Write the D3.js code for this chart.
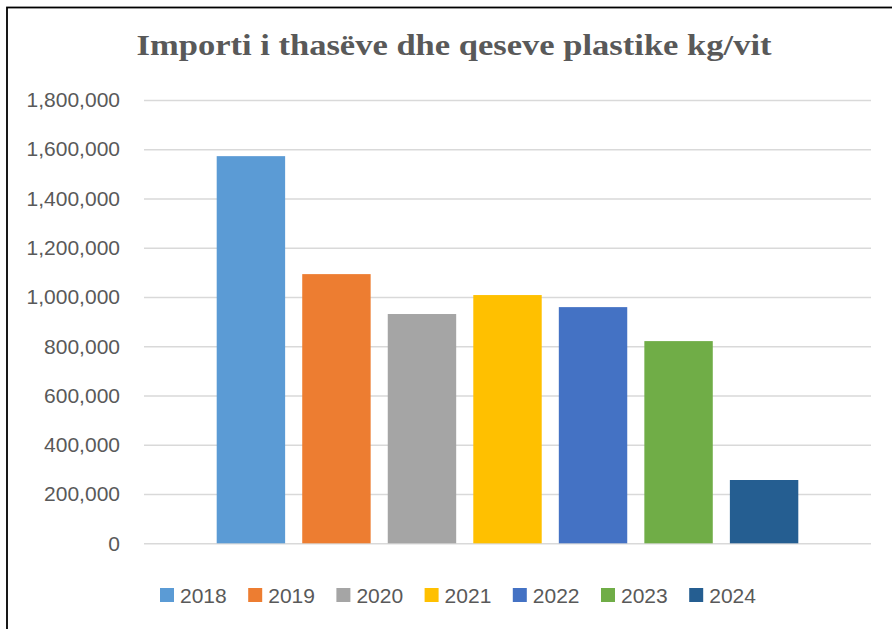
<!DOCTYPE html>
<html>
<head>
<meta charset="utf-8">
<script src="https://cdn.jsdelivr.net/npm/d3@7"></script>
<style>
  body { margin: 0; background: #fff; }
  svg { display: block; }
</style>
</head>
<body>
<div id="chart"></div>
<script>
// data
const years = ["2018", "2019", "2020", "2021", "2022", "2023", "2024"];
const imports = [1572000, 1093000, 931000, 1008000, 959000, 821000, 257000];
const colors = ["#5b9bd5", "#ed7d31", "#a5a5a5", "#ffc000", "#4472c4", "#70ad47", "#255e91"];
const yTicks = [0, 200000, 400000, 600000, 800000, 1000000, 1200000, 1400000, 1600000, 1800000];
const title = "Importi i thasëve dhe qeseve plastike kg/vit";

const width = 892, height = 629;
const plot = {left: 144, right: 871, top: 100, bottom: 543.3};

const svg = d3.select("#chart")
    .append("svg")
    .attr("width", width)
    .attr("height", height);

// chart frame (only top and left edges show in the picture)
svg.append("rect")
    .attr("x", 7)
    .attr("y", 7.5)
    .attr("width", width + 20)
    .attr("height", height + 20)
    .attr("fill", "#fff")
    .attr("stroke", "#000")
    .attr("stroke-width", 1.8);

// Cambria is wider than the serif we have, so stretch to the measured width
svg.append("text")
    .attr("x", 454)
    .attr("y", 55)
    .attr("text-anchor", "middle")
    .attr("textLength", 635)
    .attr("lengthAdjust", "spacingAndGlyphs")
    .style("font-family", "'Liberation Serif', 'DejaVu Serif', serif")
    .style("font-weight", "bold")
    .style("font-size", "30px")
    .style("fill", "#595959")
    .text(title);

var x = d3.scaleBand()
    .domain(years)
    .range([plot.left, plot.right])
    .paddingInner(0.2)
    .paddingOuter(0.85);

var y = d3.scaleLinear()
    .domain([0, 1800000])
    .range([plot.bottom, plot.top]);

// gridlines
var yAxis = svg.append("g")
    .attr("transform", "translate(" + plot.left + ",0)")
    .call(d3.axisLeft(y)
        .tickValues(yTicks)
        .tickSize(-(plot.right - plot.left))
        .tickPadding(24)
        .tickFormat(d3.format(",")));

yAxis.select(".domain").remove();
yAxis.selectAll(".tick line")
    .attr("stroke", "#d9d9d9")
    .attr("stroke-width", 1.6);
yAxis.selectAll(".tick text")
    .style("font-family", "'Liberation Sans', Arial, sans-serif")
    .style("font-size", "21px")
    .style("fill", "#595959");

// bars
svg.selectAll("rect.bar")
    .data(years)
    .enter()
    .append("rect")
    .attr("class", "bar")
    .attr("x", function(d) { return x(d); })
    .attr("y", function(d, i) { return y(imports[i]); })
    .attr("width", x.bandwidth())
    .attr("height", function(d, i) { return y(0) - y(imports[i]); })
    .attr("fill", function(d, i) { return colors[i]; });

// legend
var legend = svg.append("g")
    .attr("transform", "translate(160,588)");

var item = legend.selectAll("g")
    .data(years)
    .enter()
    .append("g")
    .attr("transform", function(d, i) { return "translate(" + (i * 88.2) + ",0)"; });

item.append("rect")
    .attr("width", 14)
    .attr("height", 14)
    .attr("fill", function(d, i) { return colors[i]; });

item.append("text")
    .attr("x", 20)
    .attr("y", 14.5)
    .style("font-family", "'Liberation Sans', Arial, sans-serif")
    .style("font-size", "21px")
    .style("fill", "#595959")
    .text(function(d) { return d; });
</script>
</body>
</html>
